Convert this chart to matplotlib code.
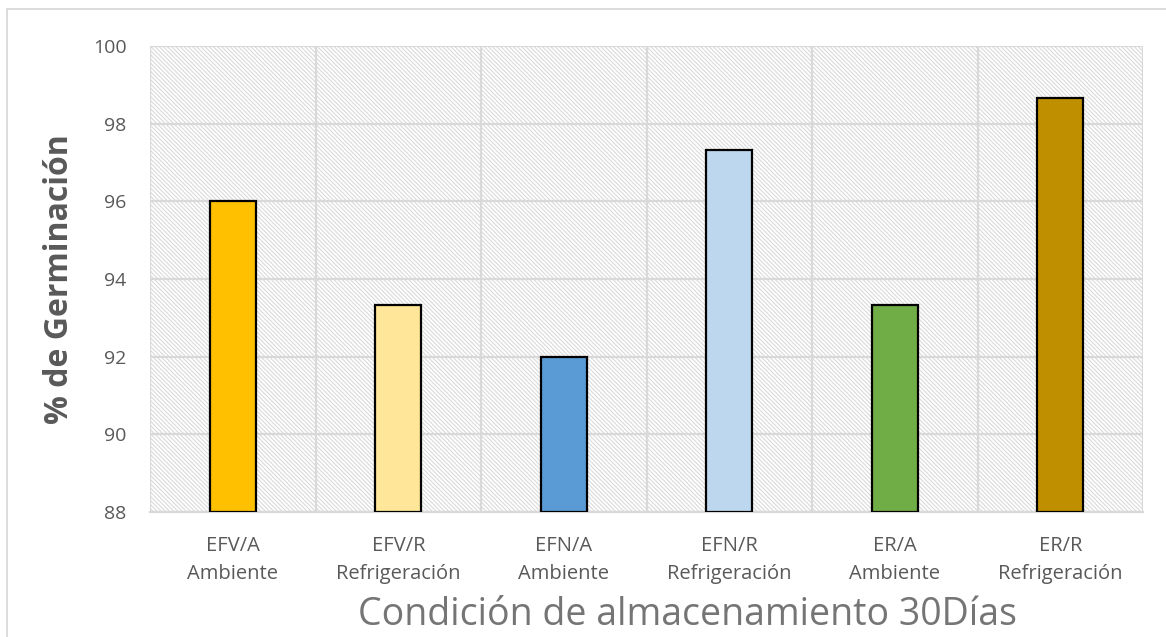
import matplotlib
matplotlib.use("Agg")
import matplotlib.pyplot as plt
from matplotlib.patches import Rectangle
from matplotlib.lines import Line2D
import numpy as np

categories = ["EFV/A\nAmbiente", "EFV/R\nRefrigeración", "EFN/A\nAmbiente",
              "EFN/R\nRefrigeración", "ER/A\nAmbiente", "ER/R\nRefrigeración"]
values = [96.0, 93.33, 92.0, 97.33, 93.33, 98.67]
colors = ["#FFC000", "#FFE699", "#5B9BD5", "#BDD7EE", "#70AD47", "#BF8F00"]
yticks = [88, 90, 92, 94, 96, 98, 100]

plt.rcParams['font.family'] = ['Open Sans', 'DejaVu Sans']
plt.rcParams['hatch.linewidth'] = 0.8
plt.rcParams['hatch.color'] = '#dadada'

fig = plt.figure(figsize=(11.66, 6.37), dpi=100)
ax = fig.add_axes([150/1166, 1-512/637, (1143-150)/1166, (512-46)/637])

# hatched background
bg = Rectangle((0, 0), 1, 1, transform=ax.transAxes, facecolor='white',
               edgecolor='#dadada', hatch='\\' * 8, linewidth=0, zorder=0)
ax.add_patch(bg)

x = np.arange(len(categories))
base = yticks[0]
ax.bar(x, [v - base for v in values], bottom=base, width=0.28, color=colors,
       edgecolor='black', linewidth=1.6, zorder=3)

ax.set_xlim(-0.5, len(categories) - 0.5)
ax.set_ylim(yticks[0], yticks[-1])
ax.set_yticks(yticks)
ax.set_yticklabels([str(t) for t in yticks])
ax.set_xticks(x)
ax.set_xticklabels(categories)
ax.set_xticks(np.arange(-0.5, len(categories)), minor=True)
ax.grid(True, axis='y', which='major', color='#d9d9d9', linewidth=1.6, zorder=1)
ax.grid(True, axis='x', which='minor', color='#d9d9d9', linewidth=1.6, zorder=1)
ax.grid(False, axis='x', which='major')
ax.tick_params(axis='both', which='both', length=0, colors='#595959')
ax.tick_params(axis='y', labelsize=14, pad=17)
ax.tick_params(axis='x', labelsize=14.5, pad=17)
for lbl in ax.get_xticklabels():
    lbl.set_linespacing(1.55)
for s in ax.spines.values():
    s.set_visible(False)
ax.spines['bottom'].set_visible(True)
ax.spines['bottom'].set_color('#d9d9d9')
ax.spines['bottom'].set_linewidth(1.6)

ax.set_ylabel('% de Germinación', fontsize=23, fontweight='bold', color='#595959', labelpad=12)
ax.set_xlabel('Condición de almacenamiento 30Días', fontsize=27, color='#757575')
ax.xaxis.label.set_va('baseline')
ax.xaxis.set_label_coords((687 - 150) / 993, -(625 - 512) / 466)

# outer border (top and left)
fig.add_artist(Line2D([7/1166, 1.0], [1-9/637, 1-9/637], transform=fig.transFigure,
                      color='#d9d9d9', linewidth=1.3))
fig.add_artist(Line2D([7/1166, 7/1166], [0, 1-9/637], transform=fig.transFigure,
                      color='#d9d9d9', linewidth=1.3))

fig.savefig('out.png', dpi=100)
